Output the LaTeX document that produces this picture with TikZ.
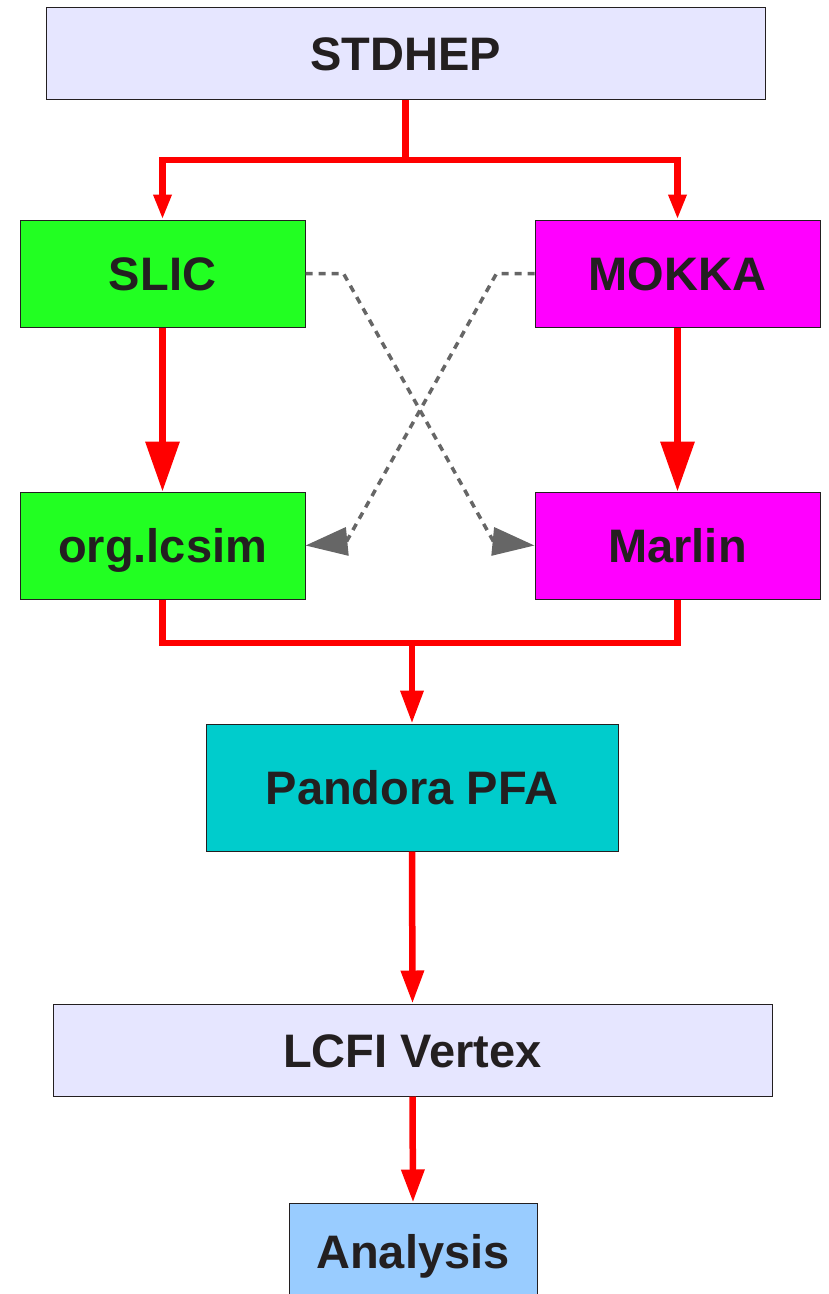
\documentclass[tikz,border=0pt]{standalone}
\usepackage{fontspec}
\setmainfont{Liberation Sans}
\usepackage{tikz}
\usepackage{xcolor}
\usetikzlibrary{arrows.meta,positioning,calc}
\definecolor{lavbox}{HTML}{E6E6FF}
\definecolor{slicgrn}{HTML}{22FF22}
\definecolor{mokkamag}{HTML}{FF00FF}
\definecolor{pfacyan}{HTML}{00CCCC}
\definecolor{anablue}{HTML}{99CCFF}
\definecolor{flowred}{HTML}{FF0000}
\definecolor{linkgray}{HTML}{666666}
\definecolor{ink}{HTML}{231F20}
\tikzset{
  pkgbox/.style={draw=ink,line width=1pt,inner sep=0pt,
                 text height=34pt,text depth=0pt,
                 font=\fontsize{47}{52}\selectfont\bfseries,text=ink},
  flowline/.style={draw=flowred,line width=6.5pt,line join=miter},
  flowarr/.style={flowline,-{Triangle[length=25pt,width=17pt]}},
  bigarr/.style={flowline,-{Triangle[length=50pt,width=33pt]}},
  midarr/.style={flowline,-{Triangle[length=33pt,width=22pt]}},
  linkarr/.style={draw=linkgray,line width=3.5pt,dash pattern=on 7pt off 6pt,
                  -{Triangle[length=42pt,width=28pt]}}
}

\begin{document}
\begin{tikzpicture}[x=1pt,y=-1pt]
  \useasboundingbox (0,0) rectangle (829,1294);
  % packages
  \node[pkgbox,fill=lavbox,minimum width=719pt,minimum height=92pt] (stdhep) at (405.5,53) {STDHEP};
  \node[pkgbox,fill=slicgrn,minimum width=285pt,minimum height=107pt] (slic) at (162.5,273.5) {SLIC};
  \node[pkgbox,fill=mokkamag,minimum width=285pt,minimum height=107pt] (mokka) at (677.5,273.5) {MOKKA};
  \node[pkgbox,fill=slicgrn,minimum width=285pt,minimum height=107pt] (lcsim) at (162.5,545.5) {org.lcsim};
  \node[pkgbox,fill=mokkamag,minimum width=285pt,minimum height=107pt] (marlin) at (677.5,545.5) {Marlin};
  \node[pkgbox,fill=pfacyan,minimum width=412pt,minimum height=127pt] (pandora) at (412,787.5) {Pandora PFA};
  \node[pkgbox,fill=lavbox,minimum width=719pt,minimum height=92pt] (lcfi) at (412.5,1050) {LCFI Vertex};
  \node[pkgbox,fill=anablue,minimum width=248pt,minimum height=96pt] (analysis) at (413,1251) {Analysis};

  % red flow
  \coordinate (split) at (405.5,160);
  \coordinate (merge) at (412,643);
  \draw[flowline] (stdhep.south) -- (split);
  \draw[flowarr] (split) -| (slic.north);
  \draw[flowarr] (split) -| (mokka.north);
  \draw[bigarr] (slic.south) -- (lcsim.north);
  \draw[bigarr] (mokka.south) -- (marlin.north);
  \draw[flowline] (lcsim.south) |- (merge) -| (marlin.south);
  \draw[midarr] (merge) -- (pandora.north);
  \draw[midarr] (pandora.south) -- (lcfi.north);
  \draw[midarr] (lcfi.south) -- (analysis.north);

  % cross links
  \draw[linkarr] (slic.east) -- ++(38,0) -- ($(marlin.west)+(-41,-4)$) -- (marlin.west);
  \draw[linkarr] (mokka.west) -- ++(-38,0) -- ($(lcsim.east)+(41,-4)$) -- (lcsim.east);
\end{tikzpicture}
\end{document}
